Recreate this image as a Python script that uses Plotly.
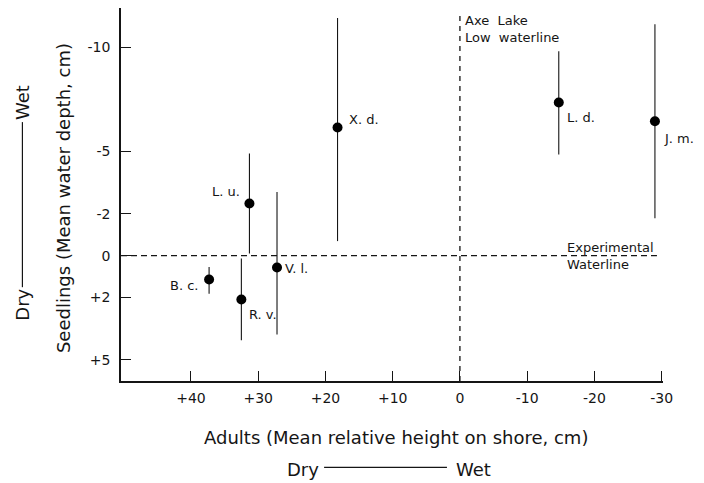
import plotly.graph_objects as go

# ---- data ----
species = ["X. d.", "L. d.", "J. m.", "L. u.", "V. l.", "B. c.", "R. v."]
adult_height = [18.2, -14.7, -29.0, 31.3, 27.2, 37.3, 32.5]        # x, cm
seedling_depth = [-6.15, -7.35, -6.45, -2.5, 0.57, 1.14, 2.10]     # y, cm
depth_low = [-11.4, -9.8, -11.1, -4.9, -3.06, 0.54, 0.13]          # range top
depth_high = [-0.7, -4.85, -1.8, -0.1, 3.78, 1.82, 4.06]           # range bottom

x_tickvals = [40, 30, 20, 10, 0, -10, -20, -30]
x_ticktext = ["+40", "+30", "+20", "+10", "0", "-10", "-20", "-30"]
y_tickvals = [-10, -5, -2, 0, 2, 5]
y_ticktext = ["-10", "-5", "-2", "0", "+2", "+5"]

experimental_waterline = 0      # seedling depth
low_waterline = 0               # adult height
x_range = [50.4, -30.2]
y_range = [6.01, -11.88]
hline_end = -29.3
vline_top = -11.6

FONT = "DejaVu Sans"
INK = "#151515"

# label placement (pixel offsets from point)
label_pos = {
    "X. d.": dict(xanchor="left", xshift=9, yshift=8),
    "L. d.": dict(xanchor="left", xshift=6, yshift=-15),
    "J. m.": dict(xanchor="left", xshift=7, yshift=-17),
    "L. u.": dict(xanchor="right", xshift=-7, yshift=12),
    "V. l.": dict(xanchor="left", xshift=6, yshift=-1),
    "B. c.": dict(xanchor="right", xshift=-9, yshift=-6),
    "R. v.": dict(xanchor="left", xshift=6, yshift=-15),
}

fig = go.Figure()

# range bars
ex, ey = [], []
for xv, lo, hi in zip(adult_height, depth_low, depth_high):
    ex += [xv, xv, None]
    ey += [lo, hi, None]
fig.add_trace(go.Scatter(x=ex, y=ey, mode="lines",
                         line=dict(color=INK, width=1.1), hoverinfo="skip"))

# reference lines
fig.add_trace(go.Scatter(x=[x_range[0], hline_end],
                         y=[experimental_waterline, experimental_waterline],
                         mode="lines", line=dict(color=INK, width=1.3, dash="6px,4px")))
fig.add_trace(go.Scatter(x=[low_waterline, low_waterline],
                         y=[y_range[0], vline_top],
                         mode="lines", line=dict(color=INK, width=1.3, dash="5px,5px")))

# points
fig.add_trace(go.Scatter(x=adult_height, y=seedling_depth, mode="markers",
                         marker=dict(color="black", size=10), text=species))

annotations = []
for name, xv, yv in zip(species, adult_height, seedling_depth):
    p = label_pos[name]
    annotations.append(dict(x=xv, y=yv, xref="x", yref="y", text=name,
                            showarrow=False, yanchor="middle",
                            font=dict(family=FONT, size=13, color=INK), **p))

def ptext(x, y, text, size=18, angle=0):
    return dict(x=x, y=y, xref="paper", yref="paper", showarrow=False, text=text,
                xanchor="center", yanchor="middle", textangle=angle,
                font=dict(family=FONT, size=size, color=INK))

annotations += [
    dict(x=low_waterline, y=0.992, xref="x", yref="paper", xanchor="left", yanchor="top",
         xshift=3, text="Axe  Lake<br>Low  waterline", align="left", showarrow=False,
         font=dict(family=FONT, size=13, color=INK)),
    dict(x=0.8188, y=experimental_waterline, xref="paper", yref="y", xanchor="left",
         yanchor="middle", text="Experimental<br>Waterline", align="left", showarrow=False,
         font=dict(family=FONT, size=13, color=INK)),
    ptext(0.5065, -0.151, "Adults (Mean relative height on shore, cm)"),
    ptext(0.336, -0.237, "Dry"),
    ptext(0.650, -0.237, "Wet"),
    ptext(-0.1063, 0.4915, "Seedlings (Mean water depth, cm)", angle=-90),
    ptext(-0.1819, 0.7464, "Wet", angle=-90),
    ptext(-0.1819, 0.2058, "Dry", angle=-90),
]

shapes = [
    dict(type="line", xref="paper", yref="paper", x0=0.3747, x1=0.6014,
         y0=-0.2316, y1=-0.2316, line=dict(color=INK, width=1.2)),
    dict(type="line", xref="paper", yref="paper", x0=-0.1819, x1=-0.1819,
         y0=0.2515, y1=0.6941, line=dict(color=INK, width=1.2)),
]

fig.update_layout(
    width=696, height=475,
    margin=dict(l=113, r=41, t=0, b=102),
    paper_bgcolor="white", plot_bgcolor="white",
    showlegend=False,
    annotations=annotations, shapes=shapes,
    font=dict(family=FONT, color=INK),
    xaxis=dict(range=x_range, tickvals=x_tickvals, ticktext=x_ticktext,
               showgrid=False, zeroline=False, showline=True, linecolor=INK,
               linewidth=1.5, ticks="inside", ticklen=10, tickwidth=1.2, tickcolor=INK,
               tickfont=dict(family=FONT, size=14, color=INK), ticklabelstandoff=3),
    yaxis=dict(range=y_range, tickvals=y_tickvals, ticktext=y_ticktext,
               showgrid=False, zeroline=False, showline=True, linecolor=INK,
               linewidth=1.5, ticks="inside", ticklen=10, tickwidth=1.2, tickcolor=INK,
               tickfont=dict(family=FONT, size=14, color=INK), ticklabelstandoff=6),
)

fig.write_html("out.html")
